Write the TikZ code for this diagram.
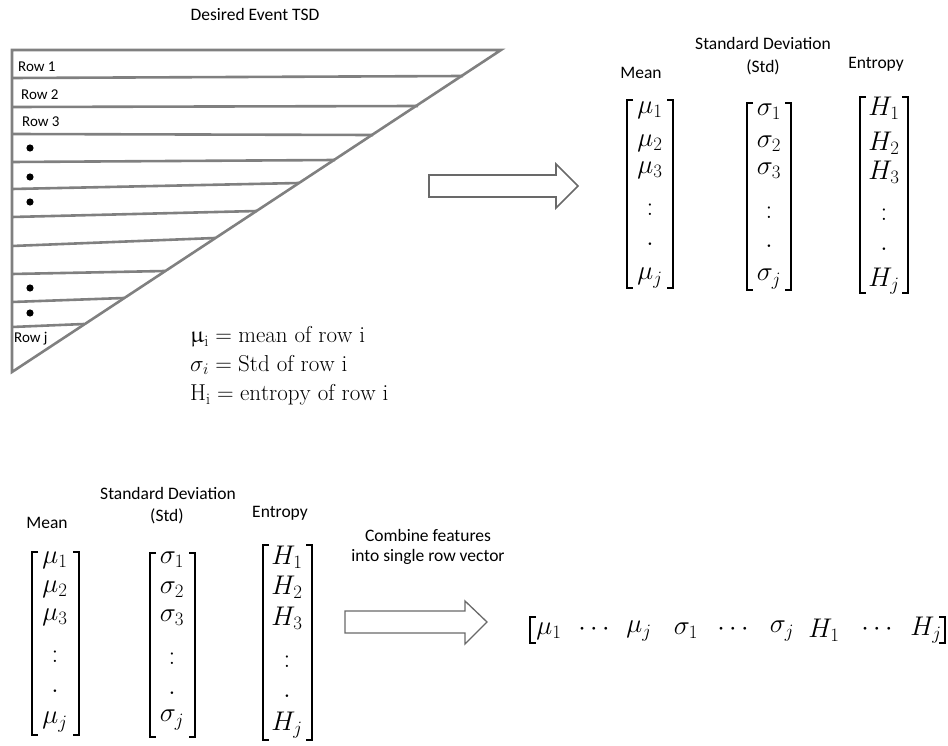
\RequirePackage{fix-cm}
\documentclass[tikz,border=0pt]{standalone}
\usepackage{fontspec}
\usepackage{upgreek}
\newfontfamily\carl{Carlito}
\definecolor{trigray}{RGB}{128,128,128}
\definecolor{arrgray}{RGB}{105,105,105}
\begin{document}
\begin{tikzpicture}[x=1pt,y=-1pt,
  lbl/.style={font=\carl\fontsize{17.5}{19}\selectfont, inner sep=0pt},
  rowlbl/.style={font=\carl\fontsize{15}{16}\selectfont, inner sep=0pt, anchor=west},
  ent/.style={font=\fontsize{27}{29}\selectfont, inner sep=0pt},
  leg/.style={font=\fontsize{23}{25}\selectfont, inner sep=0pt, anchor=west},
  tri/.style={draw=trigray, line width=2.6pt},
  brk/.style={draw=black, line width=1.4pt},
  blockarrow/.style={draw=arrgray, line width=1.6pt, fill=white, line join=miter}]
\useasboundingbox (0,0) rectangle (948,746);

% ---------- triangle ----------
\coordinate (TL) at (12,50);
\coordinate (TR) at (501,50);
\coordinate (BL) at (12,372);
\draw[tri, line join=miter] (TR) -- (TL) -- (BL) -- cycle;
\foreach \yl/\yr/\xr in {78/76/463, 107/106/418, 134/135/373, 162/160/335, 189/183/299, 217/211/257, 246/238/215, 274/271/165, 302/298/124, 327/324/84}
  \draw[tri] (12,\yl) -- (\xr,\yr);

\node[lbl] (title) at (255,14) {Desired Event TSD};
\node[rowlbl] (r1) at (18,67) {Row 1};
\node[rowlbl] (r2) at (21,95) {Row 2};
\node[rowlbl] (r3) at (22,122) {Row 3};
\node[rowlbl] (rj) at (14,339) {Row j};
\foreach \yd in {148,177,202,288,313}
  \fill (30,\yd) circle (3.6);

% ---------- legend ----------
\node[leg] (l1) at (190,337) {$\upmu_{\mathrm{i}} = \mathrm{mean\ of\ row\ i}$};
\node[leg] (l2) at (190,365) {$\sigma_{i} = \mathrm{Std\ of\ row\ i}$};
\node[leg] (l3) at (190,395) {$\mathrm{H}_{\mathrm{i}} = \mathrm{entropy\ of\ row\ i}$};

% ---------- top arrow ----------
\draw[blockarrow] (429,175) -- (556,175) -- (556,164) -- (578,186) -- (556,208) -- (556,197) -- (429,197) -- cycle;

% ---------- top-right matrices ----------
\node[lbl] (tmean) at (641,73) {Mean};
\node[lbl] (tsd) at (763,43) {Standard Deviation};
\node[lbl] (tstd) at (763,67) {(Std)};
\node[lbl] (tent) at (876,64) {Entropy};

% mu
\draw[brk] (633,100) -- (627,100) -- (627,288) -- (633,288);
\draw[brk] (667,100) -- (673,100) -- (673,288) -- (667,288);
\node[ent] (tm1) at (650,110) {$\mu_1$};
\node[ent] (tm2) at (650,143) {$\mu_2$};
\node[ent] (tm3) at (650,170) {$\mu_3$};
\node[ent] (tmv) at (650,210) {$:$};
\node[ent] (tmd) at (650,244) {$.$};
\node[ent] (tmj) at (650,278) {$\mu_j$};
% sigma
\draw[brk] (753,103) -- (747,103) -- (747,290) -- (753,290);
\draw[brk] (785,103) -- (791,103) -- (791,290) -- (785,290);
\node[ent] (ts1) at (769,112) {$\sigma_1$};
\node[ent] (ts2) at (769,144) {$\sigma_2$};
\node[ent] (ts3) at (769,171) {$\sigma_3$};
\node[ent] (tsv) at (769,213) {$:$};
\node[ent] (tsd2) at (769,246) {$.$};
\node[ent] (tsj) at (769,279) {$\sigma_j$};
% H
\draw[brk] (866,97) -- (860,97) -- (860,293) -- (866,293);
\draw[brk] (902,97) -- (908,97) -- (908,293) -- (902,293);
\node[ent] (th1) at (884,108) {$H_1$};
\node[ent] (th2) at (884,143) {$H_2$};
\node[ent] (th3) at (884,172) {$H_3$};
\node[ent] (thv) at (884,215) {$:$};
\node[ent] (thd) at (884,249) {$.$};
\node[ent] (thj) at (884,281) {$H_j$};

% ---------- bottom-left matrices ----------
\node[lbl] (bmean) at (47,523) {Mean};
\node[lbl] (bsd) at (168,493) {Standard Deviation};
\node[lbl] (bstd) at (167,516) {(Std)};
\node[lbl] (bent) at (280,513) {Entropy};

\draw[brk] (38,552) -- (32,552) -- (32,735) -- (38,735);
\draw[brk] (73,552) -- (79,552) -- (79,735) -- (73,735);
\node[ent] (bm1) at (55,560) {$\mu_1$};
\node[ent] (bm2) at (55,589) {$\mu_2$};
\node[ent] (bm3) at (55,617) {$\mu_3$};
\node[ent] (bmv) at (55,657) {$:$};
\node[ent] (bmd) at (55,691) {$.$};
\node[ent] (bmj) at (55,722) {$\mu_j$};

\draw[brk] (156,553) -- (150,553) -- (150,737) -- (156,737);
\draw[brk] (189,553) -- (195,553) -- (195,737) -- (189,737);
\node[ent] (bs1) at (172,560) {$\sigma_1$};
\node[ent] (bs2) at (172,590) {$\sigma_2$};
\node[ent] (bs3) at (172,618) {$\sigma_3$};
\node[ent] (bsv) at (172,659) {$:$};
\node[ent] (bsd2) at (172,693) {$.$};
\node[ent] (bsj) at (172,720) {$\sigma_j$};

\draw[brk] (269,545) -- (263,545) -- (263,740) -- (269,740);
\draw[brk] (306,545) -- (312,545) -- (312,740) -- (306,740);
\node[ent] (bh1) at (287,557) {$H_1$};
\node[ent] (bh2) at (287,587) {$H_2$};
\node[ent] (bh3) at (287,618) {$H_3$};
\node[ent] (bhv) at (287,662) {$:$};
\node[ent] (bhd) at (287,696) {$.$};
\node[ent] (bhj) at (287,725) {$H_j$};

% ---------- bottom arrow ----------
\node[lbl] (comb1) at (428,535) {Combine features};
\node[lbl] (comb2) at (428,557) {into single row vector};
\draw[blockarrow, line width=1.3pt] (345,611) -- (465,611) -- (465,601) -- (487,622) -- (465,644) -- (465,633) -- (345,633) -- cycle;

% ---------- row vector ----------
\draw[brk] (536,617) -- (530,617) -- (530,643) -- (536,643);
\draw[brk] (939,617) -- (945,617) -- (945,643) -- (939,643);
\node[ent] (v1) at (549,631) {$\mu_1$};
\node[ent] (v2) at (594,629) {$\cdots$};
\node[ent] (v3) at (639,631) {$\mu_j$};
\node[ent] (v4) at (686,631) {$\sigma_1$};
\node[ent] (v5) at (733,629) {$\cdots$};
\node[ent] (v6) at (782,631) {$\sigma_j$};
\node[ent] (v7) at (824,630) {$H_1$};
\node[ent] (v8) at (877,629) {$\cdots$};
\node[ent] (v9) at (926,630) {$H_j$};
\end{tikzpicture}
\end{document}
